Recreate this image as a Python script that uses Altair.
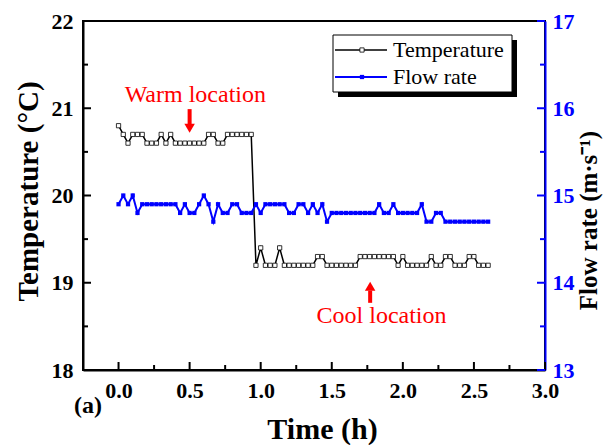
import altair as alt
import pandas as pd

# ---------------- data ----------------
minutes = [0, 2, 4, 6, 8, 10, 12, 14, 16, 18, 20, 22, 24, 26, 28, 30, 32, 34, 36, 38,
           40, 42, 44, 46, 48, 50, 52, 54, 56, 58, 60, 62, 64, 66, 68, 70, 72, 74, 76, 78,
           80, 82, 84, 86, 88, 90, 92, 94, 96, 98, 100, 102, 104, 106, 108, 110, 112, 114,
           116, 118, 120, 122, 124, 126, 128, 130, 132, 134, 136, 138, 140, 142, 144, 146,
           148, 150, 152, 154, 156]

temperature = [20.8, 20.7, 20.6, 20.7, 20.7, 20.7, 20.6, 20.6, 20.6, 20.7,
               20.6, 20.7, 20.6, 20.6, 20.6, 20.6, 20.6, 20.6, 20.6, 20.7,
               20.7, 20.6, 20.6, 20.7, 20.7, 20.7, 20.7, 20.7, 20.7, 19.2,
               19.4, 19.2, 19.2, 19.2, 19.4, 19.2, 19.2, 19.2, 19.2, 19.2,
               19.2, 19.2, 19.3, 19.3, 19.2, 19.2, 19.2, 19.2, 19.2, 19.2,
               19.2, 19.3, 19.3, 19.3, 19.3, 19.3, 19.3, 19.3, 19.3, 19.2,
               19.3, 19.2, 19.2, 19.2, 19.2, 19.2, 19.3, 19.2, 19.2, 19.3,
               19.3, 19.2, 19.2, 19.2, 19.3, 19.3, 19.2, 19.2, 19.2]

flow_rate = [14.9, 15.0, 14.9, 15.0, 14.8, 14.9, 14.9, 14.9, 14.9, 14.9,
             14.9, 14.9, 14.9, 14.8, 14.9, 14.8, 14.8, 14.9, 15.0, 14.9,
             14.7, 14.9, 14.8, 14.8, 14.9, 14.9, 14.8, 14.8, 14.8, 14.9,
             14.8, 14.9, 14.9, 14.9, 14.9, 14.9, 14.8, 14.8, 14.9, 14.9,
             14.8, 14.9, 14.8, 14.9, 14.7, 14.8, 14.8, 14.8, 14.8, 14.8,
             14.8, 14.8, 14.8, 14.8, 14.8, 14.9, 14.8, 14.8, 14.9, 14.8,
             14.8, 14.8, 14.8, 14.8, 14.9, 14.7, 14.7, 14.8, 14.8, 14.7,
             14.7, 14.7, 14.7, 14.7, 14.7, 14.7, 14.7, 14.7, 14.7]

x_major = [0.0, 0.5, 1.0, 1.5, 2.0, 2.5, 3.0]
x_minor = [0.25, 0.75, 1.25, 1.75, 2.25, 2.75]
temp_major = [18, 19, 20, 21, 22]
temp_minor = [18.5, 19.5, 20.5, 21.5]
flow_major = [13, 14, 15, 16, 17]
flow_minor = [13.5, 14.5, 15.5, 16.5]

legend_labels = ["Temperature", "Flow rate"]

annot_text = ["Warm location", "Cool location"]
annot_x = [0.54, 1.85]
annot_y = [21.15, 18.62]
arrow_x = [0.5, 1.77]
arrow_tail = [20.99, 18.77]
arrow_neck = [20.81, 18.91]
arrow_head = [20.77, 18.96]
arrow_shape = ["triangle-down", "triangle-up"]

# ---------------- layout / style ----------------
W, H = 462, 349
FONT = "Liberation Serif"
BLUE = "#0000ff"
RED = "#ff0000"

X_DOM = [-0.25, 3.0]
T_DOM = [18, 22]
F_DOM = [13, 17]

hours = [m / 60 for m in minutes]
df = pd.DataFrame({"t": hours, "temp": temperature, "flow": flow_rate})

xs = alt.Scale(domain=X_DOM, nice=False, zero=False)
ts = alt.Scale(domain=T_DOM, nice=False, zero=False)
fs = alt.Scale(domain=F_DOM, nice=False, zero=False)

x_axis = alt.Axis(values=x_major, format=".1f", ticks=False, grid=False,
                  title="Time (h)", labelPadding=10, titlePadding=13, titleX=239,
                  domainColor="black", domainWidth=2,
                  labelFont=FONT, labelFontSize=22, labelFontWeight="bold",
                  labelColor="black", labelOverlap=False, labelFlush=False,
                  titleFont=FONT, titleFontSize=30, titleFontWeight="bold",
                  titleColor="black")

t_axis = alt.Axis(orient="left", values=temp_major, ticks=False, grid=False,
                  title="Temperature (°C)", labelPadding=10, titlePadding=8, titleY=170,
                  domainColor="black", domainWidth=2,
                  labelFont=FONT, labelFontSize=22, labelFontWeight="bold",
                  labelColor="black", labelOverlap=False, labelFlush=False,
                  titleFont=FONT, titleFontSize=29, titleFontWeight="bold",
                  titleColor="black")

f_axis = alt.Axis(orient="right", values=flow_major, ticks=False, grid=False,
                  title="Flow rate (m·s⁻¹)", labelPadding=7, titlePadding=2,
                  titleAngle=270, titleBaseline="top", titleY=199,
                  domainColor=BLUE, domainWidth=2,
                  labelFont=FONT, labelFontSize=22, labelFontWeight="bold",
                  labelColor=BLUE, labelOverlap=False, labelFlush=False,
                  titleFont=FONT, titleFontSize=25, titleFontWeight="bold",
                  titleColor="black")


def X(f):
    return alt.X(f, type="quantitative", scale=xs, axis=x_axis)


def YT(f):
    return alt.Y(f, type="quantitative", scale=ts, axis=t_axis)


def YF(f):
    return alt.Y(f, type="quantitative", scale=fs, axis=f_axis)


# ---------------- temperature layer ----------------
temp_line = alt.Chart(df).mark_line(color="black", strokeWidth=1.5).encode(
    x=X("t"), y=YT("temp"))
temp_pts = alt.Chart(df).mark_point(shape="square", size=18, filled=True, fill="white",
                                    stroke="black", strokeWidth=0.8, opacity=1).encode(
    x=X("t"), y=YT("temp"))

xmaj = alt.Chart(pd.DataFrame({"v": x_major})).mark_rule(color="black", strokeWidth=2).encode(
    x=X("v"), y=alt.value(H), y2=alt.value(H - 8))
xmin = alt.Chart(pd.DataFrame({"v": x_minor})).mark_rule(color="black", strokeWidth=2).encode(
    x=X("v"), y=alt.value(H), y2=alt.value(H - 5))
tmaj = alt.Chart(pd.DataFrame({"v": temp_major})).mark_rule(color="black", strokeWidth=2).encode(
    y=YT("v"), x=alt.value(0), x2=alt.value(8))
tmin = alt.Chart(pd.DataFrame({"v": temp_minor})).mark_rule(color="black", strokeWidth=2).encode(
    y=YT("v"), x=alt.value(0), x2=alt.value(5))

ann_df = pd.DataFrame({"text": annot_text, "x": annot_x, "y": annot_y})
ann = alt.Chart(ann_df).mark_text(font=FONT, fontSize=24, color=RED, align="center",
                                  baseline="middle").encode(
    x=X("x"), y=YT("y"), text="text:N")

arr_df = pd.DataFrame({"x": arrow_x, "y1": arrow_tail, "y2": arrow_neck,
                       "yh": arrow_head, "shape": arrow_shape})
arr_shaft = alt.Chart(arr_df).mark_rule(color=RED, strokeWidth=4).encode(
    x=X("x"), y=YT("y1"), y2="y2:Q")
arr_head = alt.Chart(arr_df).mark_point(filled=True, color=RED, size=110, opacity=1).encode(
    x=X("x"), y=YT("yh"), shape=alt.Shape("shape:N", scale=None))

panel_df = pd.DataFrame({"label": ["(a)"]})
panel = alt.Chart(panel_df).mark_text(font=FONT, fontSize=24, fontWeight="bold",
                                      align="center", baseline="middle", color="black").encode(
    x=alt.value(5), y=alt.value(385), text="label:N")

temp_layer = alt.layer(temp_line, temp_pts, xmaj, xmin, tmaj, tmin, ann,
                       arr_shaft, arr_head, panel)

# ---------------- flow layer ----------------
flow_line = alt.Chart(df).mark_line(color=BLUE, strokeWidth=2).encode(
    x=X("t"), y=YF("flow"))
flow_pts = alt.Chart(df).mark_square(size=18, color=BLUE, opacity=1).encode(
    x=X("t"), y=YF("flow"))
fmaj = alt.Chart(pd.DataFrame({"v": flow_major})).mark_rule(color=BLUE, strokeWidth=2).encode(
    y=YF("v"), x=alt.value(W), x2=alt.value(W - 8))
fmin = alt.Chart(pd.DataFrame({"v": flow_minor})).mark_rule(color=BLUE, strokeWidth=2).encode(
    y=YF("v"), x=alt.value(W), x2=alt.value(W - 5))

# legend (drawn manually: line + marker + label, framed box with shadow)
one = pd.DataFrame({"k": [0]})
shadow = alt.Chart(one).mark_rect(color="black").encode(
    x=alt.value(255), x2=alt.value(434), y=alt.value(19), y2=alt.value(76))
box = alt.Chart(one).mark_rect(fill="white", stroke="black", strokeWidth=1).encode(
    x=alt.value(250), x2=alt.value(429), y=alt.value(14), y2=alt.value(71))
lg1_line = alt.Chart(one).mark_rule(color="black", strokeWidth=1.5).encode(
    x=alt.value(252), x2=alt.value(304), y=alt.value(29))
lg1_pt = alt.Chart(one).mark_point(shape="square", size=18, filled=True, fill="white",
                                   stroke="black", strokeWidth=0.8, opacity=1).encode(
    x=alt.value(279), y=alt.value(29))
lg2_line = alt.Chart(one).mark_rule(color=BLUE, strokeWidth=2).encode(
    x=alt.value(252), x2=alt.value(304), y=alt.value(56))
lg2_pt = alt.Chart(one).mark_square(size=18, color=BLUE, opacity=1).encode(
    x=alt.value(279), y=alt.value(56))
lg_text1 = alt.Chart(pd.DataFrame({"label": [legend_labels[0]]})).mark_text(
    font=FONT, fontSize=22, align="left", baseline="middle", color="black").encode(
    x=alt.value(310), y=alt.value(29), text="label:N")
lg_text2 = alt.Chart(pd.DataFrame({"label": [legend_labels[1]]})).mark_text(
    font=FONT, fontSize=22, align="left", baseline="middle", color="black").encode(
    x=alt.value(310), y=alt.value(56), text="label:N")

flow_layer = alt.layer(flow_line, flow_pts, fmaj, fmin, shadow, box,
                       lg1_line, lg1_pt, lg2_line, lg2_pt, lg_text1, lg_text2)

chart = alt.layer(temp_layer, flow_layer).resolve_scale(y="independent").properties(
    width=W, height=H,
    padding={"left": 75, "top": 13, "right": 60, "bottom": 75},
    autosize=alt.AutoSizeParams(type="none"),
    background="white",
).configure(font=FONT).configure_axis(
    labelFont=FONT, titleFont=FONT
).configure_text(font=FONT).configure_view(stroke="black", strokeWidth=2)

chart.save("out.html", embed_options={"renderer": "svg", "actions": False})
